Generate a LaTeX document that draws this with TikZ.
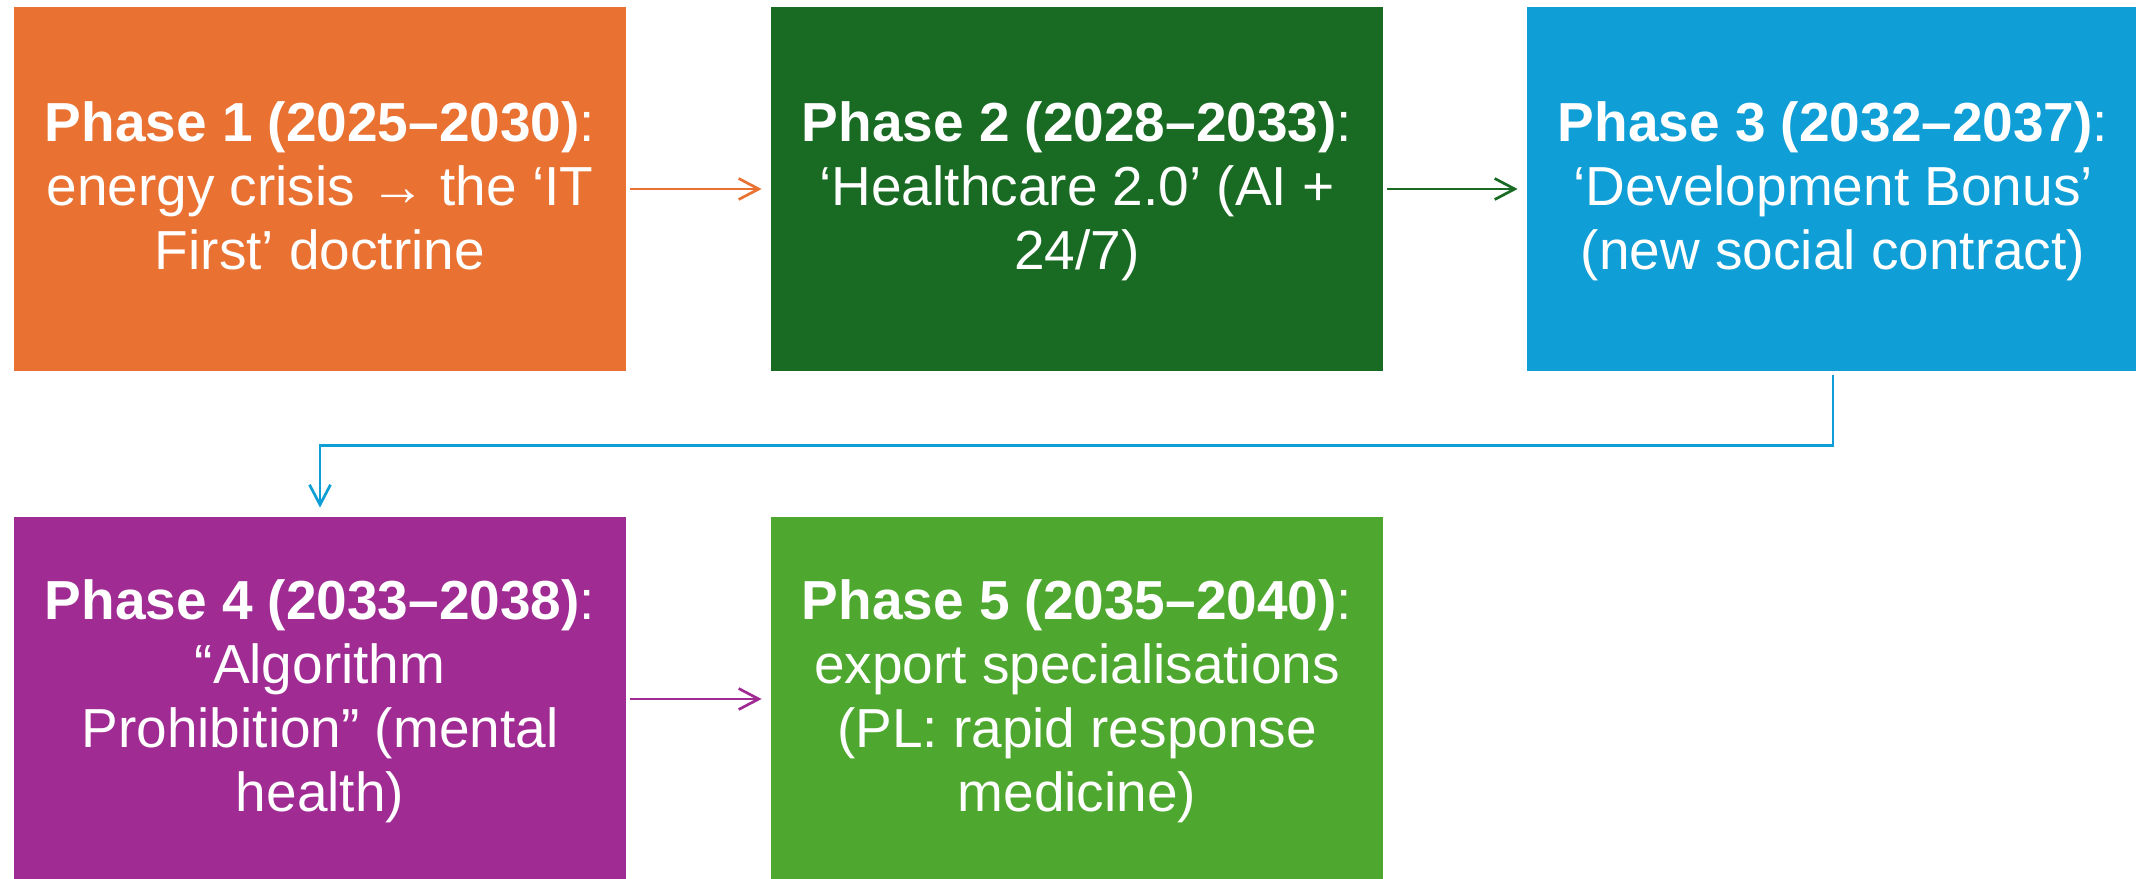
\documentclass[tikz,border=0pt]{standalone}
\usepackage{fontspec}
\setmainfont{Liberation Sans}
\usetikzlibrary{arrows.meta}
\definecolor{corange}{HTML}{E97132}
\definecolor{cdgreen}{HTML}{196B24}
\definecolor{cblue}{HTML}{0F9ED5}
\definecolor{cpurple}{HTML}{A02B93}
\definecolor{clgreen}{HTML}{4EA72E}
\newcommand\tstrutx{\rule{0pt}{24pt}}
\newcommand\bstrutx{\rule[-7.5pt]{0pt}{7.5pt}}
\begin{document}
\begin{tikzpicture}[x=0.5pt,y=-0.5pt,
  box/.style={rectangle, minimum width=306pt, minimum height=182pt, inner sep=0pt,
    text=white, align=center, font=\fontsize{27.5pt}{32pt}\selectfont},
  conn/.style={line width=1.35pt, -{Straight Barb[length=10pt,width=10.5pt]},
    shorten <=2pt, shorten >=4.5pt}]
\useasboundingbox (0,0) rectangle (2136,878);
\node[box, fill=corange] (b1) at (320,189)
  {\tstrutx\textbf{Phase 1 (2025–2030)}:\\energy crisis → the ‘IT\\First’ doctrine\bstrutx};
\node[box, fill=cdgreen] (b2) at (1077,189)
  {\tstrutx\textbf{Phase 2 (2028–2033)}:\\‘Healthcare 2.0’ (AI +\\24/7)\bstrutx};
\node[box, fill=cblue] (b3) at (1833,189)
  {\tstrutx\textbf{Phase 3 (2032–2037)}:\\‘Development Bonus’\\(new social contract)\bstrutx};
\node[box, fill=cpurple] (b4) at (320,699)
  {\tstrutx\textbf{Phase 4 (2033–2038)}:\\“Algorithm\\Prohibition” (mental\\health)\bstrutx};
\node[box, fill=clgreen] (b5) at (1077,699)
  {\tstrutx\textbf{Phase 5 (2035–2040)}:\\export specialisations\\(PL: rapid response\\medicine)\bstrutx};
\draw[conn, draw=corange] (b1.east) -- (b2.west);
\draw[conn, draw=cdgreen] (b2.east) -- (b3.west);
\draw[conn, draw=cblue] (b3.south) -- ++(0,74) -| (b4.north);
\draw[conn, draw=cpurple] (b4.east) -- (b5.west);
\end{tikzpicture}
\end{document}
